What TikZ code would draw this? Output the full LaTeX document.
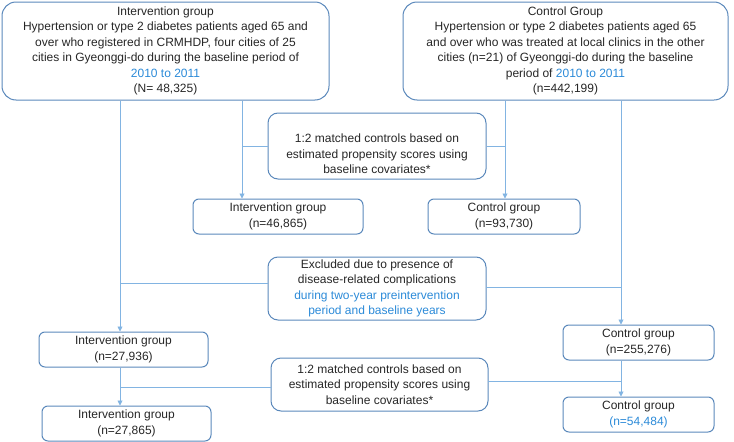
\documentclass[tikz,border=0pt]{standalone}
\usepackage{fontspec}
\setmainfont{Liberation Sans}
\usetikzlibrary{arrows.meta}
\definecolor{bord}{HTML}{5A88BB}
\definecolor{conn}{HTML}{82B4E2}
\definecolor{bluetxt}{HTML}{2B8AD8}
\tikzset{
  box/.style={draw=bord, line width=1pt, rounded corners=#1, align=center, inner sep=0pt,
    font=\fontsize{12}{15.5}\selectfont, text=black!85},
  box/.default=7pt,
  txt/.style={align=center, inner sep=0pt, font=\fontsize{12}{15.5}\selectfont, text=black!85},
  arr/.style={draw=conn, line width=0.9pt, -{Triangle[length=5pt,width=5pt]}},
  ln/.style={draw=conn, line width=0.9pt},
}
\begin{document}
\begin{tikzpicture}[x=1pt,y=-1pt]
\useasboundingbox (0,0) rectangle (734,442);
% top boxes
\node[box=14pt, minimum width=327pt, minimum height=98pt] (b1) at (165.5,51)
 {Intervention group\\Hypertension or type 2 diabetes patients aged 65 and\\over who registered in CRMHDP, four cities of 25\\cities in Gyeonggi-do during the baseline period of\\\textcolor{bluetxt}{2010 to 2011}\\(N= 48,325)};
\node[box=14pt, minimum width=325pt, minimum height=98pt] (b2) at (565.5,51)
 {Control Group\\Hypertension or type 2 diabetes patients aged 65\\and over who was treated at local clinics in the other\\cities (n=21) of Gyeonggi-do during the baseline\\period of \textcolor{bluetxt}{2010 to 2011}\\(n=442,199)};
% matched 1
\node[box=10pt, minimum width=218pt, minimum height=66pt] (b3) at (377,146) {};
\node[txt] (b3t) at (377,154)
 {1:2 matched controls based on\\estimated propensity scores using\\baseline covariates*};
\node[box=6pt, minimum width=170pt, minimum height=35pt] (b4) at (278,216.5)
 {Intervention group\\(n=46,865)};
\node[box=6pt, minimum width=152pt, minimum height=35pt] (b5) at (504,216.5)
 {Control group\\(n=93,730)};
% excluded
\node[box=10pt, minimum width=218pt, minimum height=63pt] (b6) at (377,288.5)
 {Excluded due to presence of\\disease-related complications\\\textcolor{bluetxt}{during two-year preintervention}\\\textcolor{bluetxt}{period and baseline years}};
\node[box=6pt, minimum width=169pt, minimum height=35pt] (b7) at (123.5,349.5)
 {Intervention group\\(n=27,936)};
\node[box=6pt, minimum width=151pt, minimum height=35pt] (b8) at (638.5,342.5)
 {Control group\\(n=255,276)};
\node[box=10pt, minimum width=217pt, minimum height=53pt] (b9) at (379.5,384.5)
 {1:2 matched controls based on\\estimated propensity scores using\\baseline covariates*};
\node[box=6pt, minimum width=169pt, minimum height=35pt] (b10) at (126.5,423.5)
 {Intervention group\\(n=27,865)};
\node[box=6pt, minimum width=151pt, minimum height=35pt] (b11) at (638.5,414.5)
 {Control group\\\textcolor{bluetxt}{(n=54,484)}};
% guide coordinates
\coordinate (xa) at (242,0);
\coordinate (xb) at (505,0);
\coordinate (xc) at (120,0);
\coordinate (xd) at (621,0);
% connectors
\draw[arr] (b1.south -| xa) -- (b4.north -| xa);
\draw[arr] (b2.south -| xb) -- (b5.north -| xb);
\draw[ln] (b3.west) -- (b3.west -| xa);
\draw[ln] (b3.east) -- (b3.east -| xb);
\draw[arr] (b1.south -| xc) -- (b7.north -| xc);
\draw[arr] (b2.south -| xd) -- (b8.north -| xd);
\coordinate (e1) at (268,283);
\coordinate (e2) at (486,287);
\draw[ln] (e1) -- (e1 -| xc);
\draw[ln] (e2) -- (e2 -| xd);
\draw[arr] (b7.south -| xc) -- (b10.north -| xc);
\draw[arr] (b8.south -| xd) -- (b11.north -| xd);
\coordinate (m1) at (271,387);
\coordinate (m2) at (488,381);
\draw[ln] (m1) -- (m1 -| xc);
\draw[ln] (m2) -- (m2 -| xd);
\end{tikzpicture}
\end{document}
